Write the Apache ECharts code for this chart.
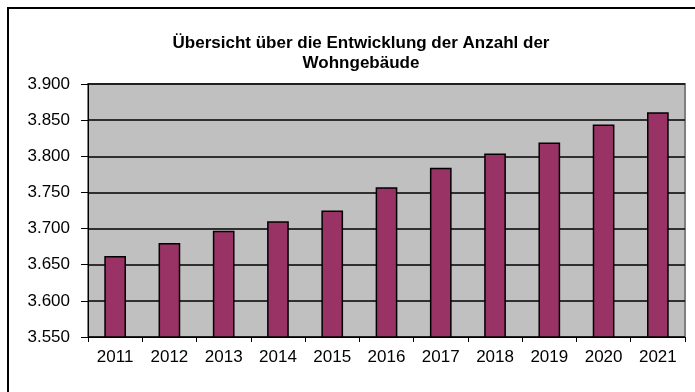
<!DOCTYPE html>
<html>
<head>
<meta charset="utf-8">
<script src="https://cdn.jsdelivr.net/npm/echarts@6/dist/echarts.min.js"></script>
<style>
  html, body { margin: 0; padding: 0; background: #ffffff; }
  #chart { width: 695px; height: 392px; }
</style>
</head>
<body>
<div id="chart"></div>
<script>
// Anzahl der Wohngebäude je Jahr
const years = ['2011', '2012', '2013', '2014', '2015', '2016', '2017', '2018', '2019', '2020', '2021'];
const buildings = [3662, 3680, 3697, 3710, 3725, 3757, 3784, 3804, 3819, 3844, 3861];

const yMin = 3550;
const yMax = 3900;
const yStep = 50;

// German thousands separator: 3900 -> "3.900"
function formatThousands(v) {
  const n = Math.round(v);
  const head = Math.floor(n / 1000);
  const tail = String(n % 1000).padStart(3, '0');
  return head + '.' + tail;
}

const chart = echarts.init(document.getElementById('chart'), null, { renderer: 'canvas' });

chart.setOption({
  animation: false,
  backgroundColor: '#ffffff',
  textStyle: { fontFamily: '"Liberation Sans", Arial, sans-serif' },
  title: {
    text: 'Übersicht über die Entwicklung der Anzahl der\nWohngebäude',
    left: 356,
    textAlign: 'center',
    top: 28,
    textStyle: {
      fontFamily: '"Liberation Sans", Arial, sans-serif',
      fontSize: 17,
      fontWeight: 'bold',
      color: '#000000',
      lineHeight: 20
    }
  },
  graphic: [{
    type: 'rect',
    shape: { x: 8, y: 8, width: 720, height: 420 },
    style: { fill: 'none', stroke: '#000000', lineWidth: 2 },
    silent: true
  }],
  grid: {
    left: 88,
    right: 10,
    top: 84,
    bottom: 55,
    show: true,
    backgroundColor: '#c0c0c0',
    borderColor: '#808080',
    borderWidth: 2
  },
  xAxis: {
    type: 'category',
    data: years,
    axisLine: { show: true, lineStyle: { color: '#000000', width: 1 } },
    axisTick: { show: true, length: 5, lineStyle: { color: '#000000' } },
    axisLabel: { color: '#000000', fontSize: 17, margin: 12 },
    splitLine: { show: false }
  },
  yAxis: {
    type: 'value',
    min: yMin,
    max: yMax,
    interval: yStep,
    axisLine: { show: true, lineStyle: { color: '#000000', width: 1 } },
    axisTick: { show: true, length: 7, lineStyle: { color: '#000000' } },
    axisLabel: { color: '#000000', fontSize: 17, margin: 18, formatter: formatThousands },
    splitLine: { show: true, lineStyle: { color: '#000000', width: 1.5 } }
  },
  series: [{
    type: 'bar',
    data: buildings,
    barCategoryGap: '60%',
    itemStyle: { color: '#993366', borderColor: '#000000', borderWidth: 1.5 }
  }]
});
</script>
</body>
</html>
